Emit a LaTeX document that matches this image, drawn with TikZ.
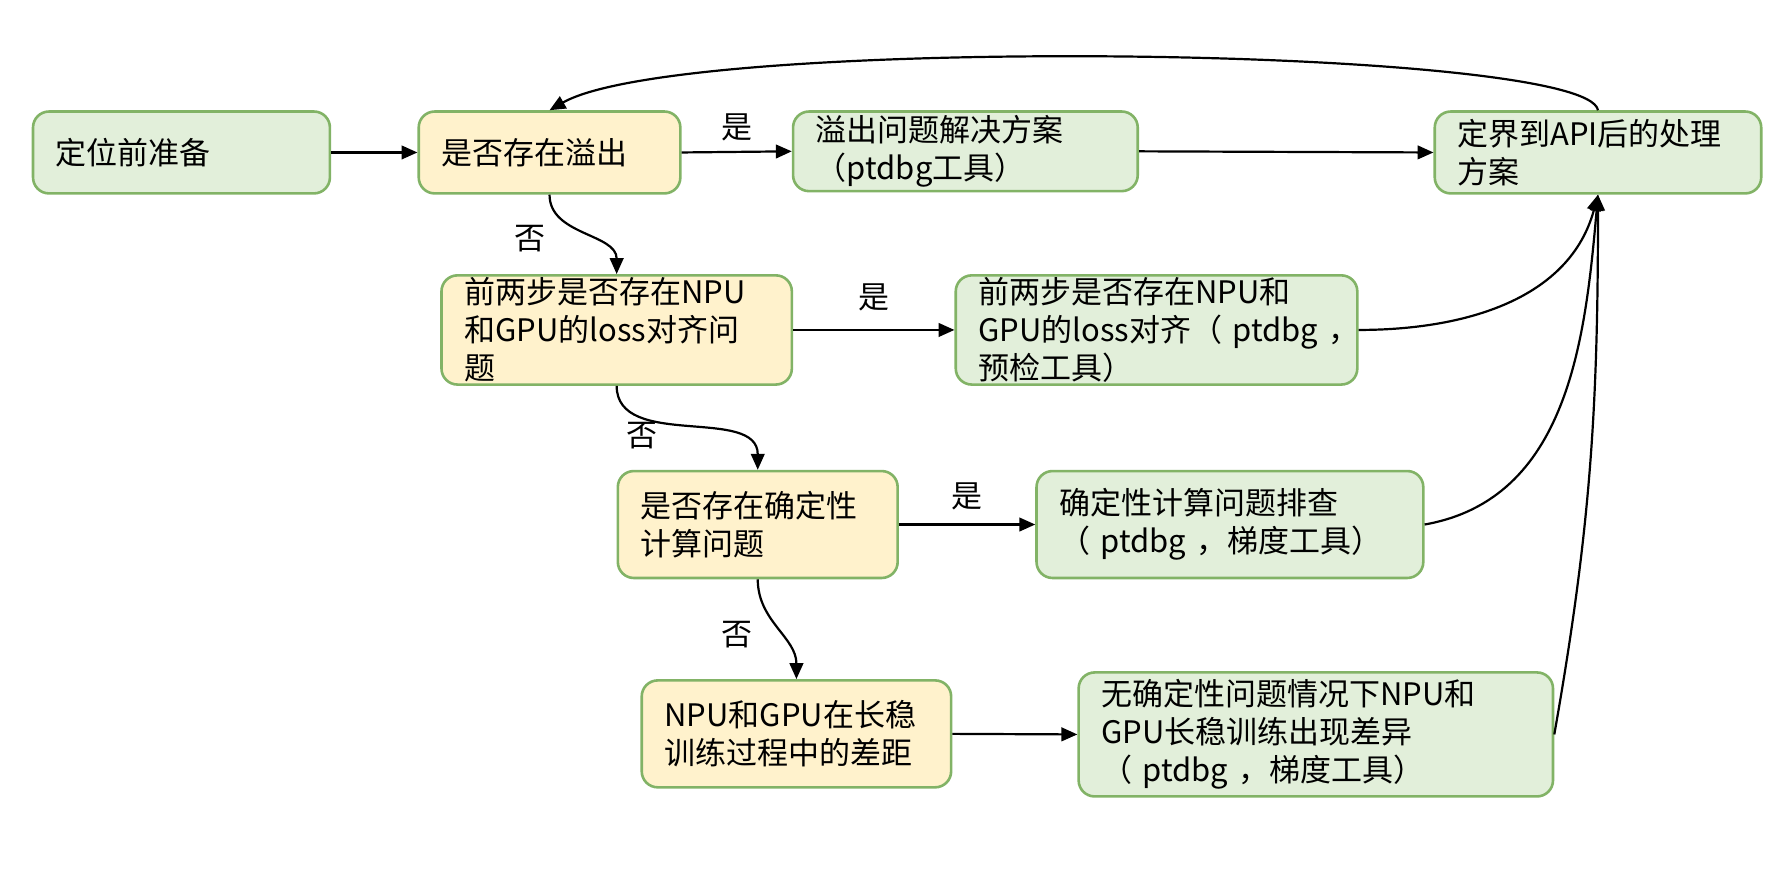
\documentclass[tikz,border=0pt]{standalone}
\usepackage{fontspec}
\setmainfont{Noto Sans CJK SC}
\usetikzlibrary{arrows.meta,positioning}

\definecolor{boxline}{HTML}{82B366}
\definecolor{okfill}{HTML}{E2EFDA}
\definecolor{askfill}{HTML}{FFF2CC}

\tikzset{
  box/.style={draw=boxline, line width=1.3pt, rounded corners=8pt,
    inner xsep=0.4cm, inner ysep=0pt, align=left,
    font=\fontsize{15.5}{19}\selectfont},
  ask/.style={box, fill=askfill},
  sol/.style={box, fill=okfill},
  link/.style={-{Triangle[length=0.28cm,width=0.24cm]}, line width=1.1pt},
  tag/.style={font=\fontsize{15.5}{19}\selectfont, inner sep=2pt}
}

\begin{document}
\begin{tikzpicture}[x=0.02cm, y=0.02cm]
    \useasboundingbox (0,0) rectangle (1568,-768);
    % Define boxes
    \node[sol, text width=4.42cm, minimum height=1.44cm] (prep) at (159.5,-134) {定位前准备};
    \node[ask, text width=3.8cm, minimum height=1.44cm] (ovf) at (483,-134) {是否存在溢出};
    \node[sol, text width=5.26cm, minimum height=1.40cm] (ovfsol) at (848.5,-133) {溢出问题解决方案\\（ptdbg工具）};
    \node[sol, text width=4.94cm, minimum height=1.44cm] (api) at (1404.5,-134) {定界到API后的处理\\方案};
    \node[ask, text width=5.36cm, minimum height=1.92cm] (loss) at (542,-290) {前两步是否存在NPU\\和GPU的loss对齐问\\题};
    \node[sol, text width=6.26cm, minimum height=1.92cm] (losssol) at (1016.5,-290) {前两步是否存在NPU和\\\makebox[\linewidth][l]{GPU的loss对齐（ ptdbg ，}\\预检工具）};
    \node[ask, text width=4.12cm, minimum height=1.88cm] (det) at (666,-461) {是否存在确定性\\计算问题};
    \node[sol, text width=6.0cm, minimum height=1.88cm] (detsol) at (1081,-461) {确定性计算问题排查\\（ ptdbg ，梯度工具）};
    \node[ask, text width=4.64cm, minimum height=1.88cm] (gap) at (700,-645) {NPU和GPU在长稳\\训练过程中的差距};
    \node[sol, text width=7.54cm, minimum height=2.18cm] (gapsol) at (1156.5,-645.5) {无确定性问题情况下NPU和\\GPU长稳训练出现差异\\（ ptdbg ，梯度工具）};

    % Draw edges
    \draw[link] (prep.east) -- (ovf.west);
    \draw[link] (ovf.east) -- node[tag, above=0.1cm] {是} (ovfsol.west);
    \draw[link] (ovfsol.east) -- (api.west);
    \draw[link] (api.north) .. controls (1395,-40) and (600,-30) .. (ovf.north);
    \draw[link] (ovf.south) to[out=-90, in=90] node[tag, pos=0.5, xshift=-0.93cm, yshift=-0.08cm] {否} (loss.north);
    \draw[link] (loss.east) -- node[tag, above=0.24cm] {是} (losssol.west);
    \draw[link] (loss.south) to[out=-90, in=90] node[tag, pos=0.5, xshift=-0.8cm, yshift=-0.14cm] {否} (det.north);
    \draw[link] (det.east) -- node[tag, above=0.16cm] {是} (detsol.west);
    \draw[link] (det.south) to[out=-90, in=90] node[tag, pos=0.5, xshift=-0.7cm, yshift=-0.1cm] {否} (gap.north);
    \draw[link] (gap.east) -- (gapsol.west);
    \draw[link] (losssol.east) to[out=0, in=-105] (api.south);
    \draw[link] (detsol.east) to[out=10, in=-95] (api.south);
    \draw[link] (gapsol.east) to[out=80, in=-90] (api.south);
\end{tikzpicture}
\end{document}
